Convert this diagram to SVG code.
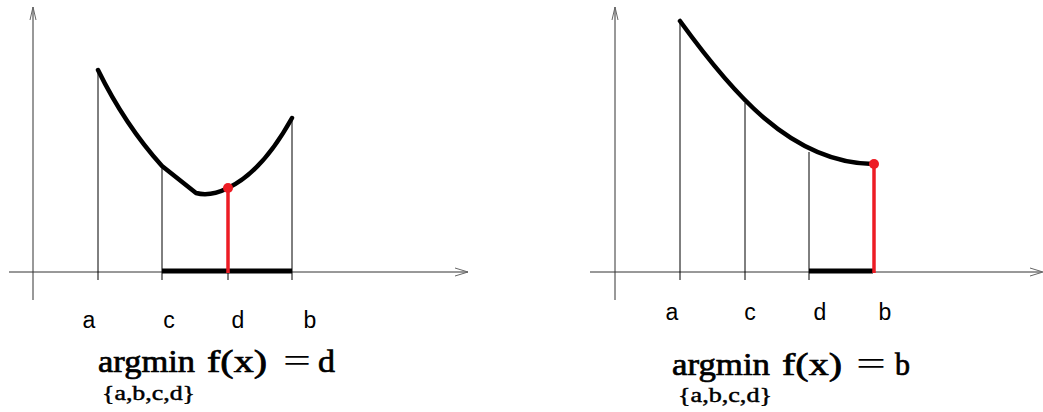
<svg xmlns="http://www.w3.org/2000/svg" width="1043" height="412" viewBox="0 0 1043 412">
<style>
.axis{stroke:#333;stroke-width:1;fill:none}
.arr{stroke:#666;stroke-width:1;fill:none}
.vl{stroke:#000;stroke-width:1;fill:none}
.curve{stroke:#000;stroke-width:4.5;fill:none;stroke-linejoin:round;stroke-linecap:round}
.bar{stroke:#000;stroke-width:5;fill:none}
.red{stroke:#ed1c24;stroke-width:3.5;fill:none}
.dot{fill:#ed1c24}
.lbl{font-family:"Liberation Sans",Arial,sans-serif;font-size:23px;fill:#000;text-anchor:middle}
.f{font-family:"Liberation Serif","Times New Roman",serif;font-size:31px;fill:#000;stroke:#000;stroke-width:0.7}
.eq{font-family:"Liberation Serif","Times New Roman",serif;font-size:34px;fill:#000}
.s{font-family:"Liberation Serif","Times New Roman",serif;font-size:20px;fill:#000;stroke:#000;stroke-width:0.45}
</style>
<g id="left-panel">
  <g id="left-axes">
    <line class="axis" x1="33" y1="7" x2="33" y2="300"/>
    <path class="arr" d="M30,20 L33,7 L36,20"/>
    <line class="axis" x1="9" y1="272" x2="468" y2="272"/>
    <path class="arr" d="M455,268 L468,272 L455,276"/>
  </g>
  <g id="left-lines">
    <line class="vl" x1="98" y1="70" x2="98" y2="280"/>
    <line class="vl" x1="162" y1="166" x2="162" y2="280"/>
    <line class="vl" x1="228" y1="272" x2="228" y2="280"/>
    <line class="vl" x1="292" y1="118" x2="292" y2="280"/>
  </g>
  <path id="left-curve" class="curve" d="M98,70 Q125,125 162,166 L196,193 Q210,197 228,188 Q262,172 292,118"/>
  <line id="left-bar" class="bar" x1="162" y1="271" x2="292" y2="271"/>
  <g id="left-min">
    <line class="red" x1="228" y1="188" x2="228" y2="273"/>
    <circle class="dot" cx="228" cy="188" r="5"/>
  </g>
  <g id="left-labels">
    <text class="lbl" x="89" y="328">a</text>
    <text class="lbl" x="169" y="328">c</text>
    <text class="lbl" x="238" y="328">d</text>
    <text class="lbl" x="310" y="328">b</text>
  </g>
  <g id="left-formula">
    <text class="f" x="98" y="372" textLength="97" lengthAdjust="spacingAndGlyphs">argmin</text>
    <text class="f" x="207" y="372" textLength="60" lengthAdjust="spacingAndGlyphs">f(x)</text>
    <text class="eq" x="283" y="372" textLength="28" lengthAdjust="spacingAndGlyphs">=</text>
    <text class="f" x="318" y="372" textLength="17" lengthAdjust="spacingAndGlyphs">d</text>
    <text class="s" x="102" y="400" textLength="93" lengthAdjust="spacingAndGlyphs">{a,b,c,d}</text>
  </g>
</g>
<g id="right-panel">
  <g id="right-axes">
    <line class="axis" x1="615" y1="7" x2="615" y2="300"/>
    <path class="arr" d="M612,20 L615,7 L618,20"/>
    <line class="axis" x1="590" y1="272" x2="1041" y2="272"/>
    <path class="arr" d="M1030,268 L1043,272 L1030,276"/>
  </g>
  <g id="right-lines">
    <line class="vl" x1="680" y1="21" x2="680" y2="280"/>
    <line class="vl" x1="745" y1="103" x2="745" y2="280"/>
    <line class="vl" x1="809" y1="152" x2="809" y2="280"/>
  </g>
  <path id="right-curve" class="curve" d="M680,21 C730,90 790,163 873,164"/>
  <line id="right-bar" class="bar" x1="809" y1="271" x2="873" y2="271"/>
  <g id="right-min">
    <line class="red" x1="874" y1="164" x2="874" y2="273"/>
    <circle class="dot" cx="874" cy="164" r="5"/>
  </g>
  <g id="right-labels">
    <text class="lbl" x="672" y="320">a</text>
    <text class="lbl" x="750" y="320">c</text>
    <text class="lbl" x="820" y="320">d</text>
    <text class="lbl" x="885" y="320">b</text>
  </g>
  <g id="right-formula">
    <text class="f" x="672" y="375" textLength="98" lengthAdjust="spacingAndGlyphs">argmin</text>
    <text class="f" x="782" y="375" textLength="60" lengthAdjust="spacingAndGlyphs">f(x)</text>
    <text class="eq" x="856" y="375" textLength="30" lengthAdjust="spacingAndGlyphs">=</text>
    <text class="f" x="895" y="375" textLength="15" lengthAdjust="spacingAndGlyphs">b</text>
    <text class="s" x="678" y="402" textLength="94" lengthAdjust="spacingAndGlyphs">{a,b,c,d}</text>
  </g>
</g>
</svg>
